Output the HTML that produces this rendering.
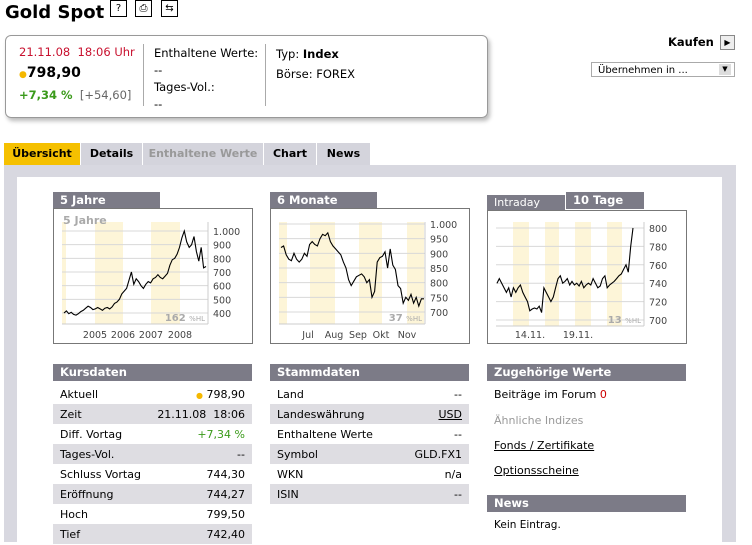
<!DOCTYPE html>
<html><head><meta charset="utf-8">
<style>
body{margin:0;width:752px;height:542px;overflow:hidden;background:#fff;font-family:"DejaVu Sans","Liberation Sans",sans-serif;font-size:11px;color:#000;position:relative}
.a{position:absolute}
.tab{position:absolute;top:143px;height:22px;line-height:22px;text-align:center;font-weight:bold;background:#d4d4dc;font-size:11px}
.hd{position:absolute;height:17px;line-height:17px;background:#7c7b87;color:#fff;font-weight:bold;padding-left:7px;box-sizing:border-box;font-size:11.5px}
.row{position:absolute;height:20px;line-height:21px;box-sizing:border-box;padding:0 7px;width:199px}
.row span{float:right}
.g{background:#dedde2}
.box{position:absolute;border:1px solid #777;background:#fff;box-sizing:border-box}
.ic{position:absolute;top:0;width:15px;height:15px;border:1px solid #000;font-size:10px;text-align:center;line-height:15px}
</style></head><body>
<div class="a" style="left:5px;top:2px;font-size:18px;font-weight:bold">Gold Spot</div>
<div class="ic" style="left:110px">?</div>
<div class="ic" style="left:135px">⎙</div>
<div class="ic" style="left:161px">⇆</div>

<div class="a" style="left:5px;top:35px;width:483px;height:83px;border:1px solid #999;border-radius:6px;box-shadow:2px 3px 4px #bbb;box-sizing:border-box"></div>
<div class="a" style="left:19px;top:45px;color:#c8102e;font-size:11.5px">21.11.08&nbsp; 18:06 Uhr</div>
<div class="a" style="left:19px;top:65px;font-size:14px;font-weight:bold"><span style="color:#f5b800;font-size:9px">●</span>798,90</div>
<div class="a" style="left:19px;top:88px;font-size:11.5px"><b style="color:#3a9a1a">+7,34 %</b> <span style="color:#666">&nbsp;[+54,60]</span></div>
<div class="a" style="left:143px;top:44px;width:1px;height:62px;background:#aaa"></div>
<div class="a" style="left:154px;top:45px;font-size:11.5px;line-height:17px">Enthaltene Werte:<br>--<br>Tages-Vol.:<br>--</div>
<div class="a" style="left:265px;top:44px;width:1px;height:62px;background:#aaa"></div>
<div class="a" style="left:276px;top:44px;font-size:11.5px;line-height:20px">Typ: <b>Index</b><br>Börse: FOREX</div>

<div class="a" style="left:668px;top:35px;font-weight:bold;font-size:11.5px">Kaufen</div>
<div class="a" style="left:720px;top:35px;width:13px;height:13px;border:1px solid #888;background:#eee;font-size:8px;text-align:center;line-height:13px">▶</div>
<div class="a" style="left:591px;top:62px;width:144px;height:15px;border:1px solid #aaa;box-sizing:border-box;font-size:10px;line-height:15px;padding-left:6px">Übernehmen in ...<span style="position:absolute;right:3px;top:1px;width:12px;height:11px;background:#ddd;font-size:7px;line-height:11px;text-align:center">▼</span></div>

<div class="tab" style="left:4px;width:76px;background:#f5c000">Übersicht</div>
<div class="tab" style="left:81px;width:61px">Details</div>
<div class="tab" style="left:143px;width:120px;color:#999">Enthaltene Werte</div>
<div class="tab" style="left:264px;width:52px">Chart</div>
<div class="tab" style="left:317px;width:53px">News</div>
<div class="a" style="left:4px;top:165px;width:732px;height:377px;background:#d8d8e0"></div>
<div class="a" style="left:17px;top:177px;width:705px;height:365px;background:#fff"></div>

<div class="hd" style="left:53px;top:192px;width:107px">5 Jahre</div>
<div class="box" style="left:53px;top:208px;width:200px;height:136px"></div>
<div class="hd" style="left:270px;top:192px;width:107px">6 Monate</div>
<div class="box" style="left:270px;top:208px;width:200px;height:136px"></div>
<div class="hd" style="left:487px;top:195px;width:78px;font-weight:normal;font-size:11px;height:15px;line-height:16px">Intraday</div>
<div class="hd" style="left:566px;top:192px;width:78px">10 Tage</div>
<div class="box" style="left:487px;top:210px;width:200px;height:134px"></div>

<svg class="a" style="left:0;top:0" width="752" height="542" id="svg"></svg>

<div class="hd" style="left:53px;top:364px;width:199px">Kursdaten</div>
<div class="row" style="left:53px;top:384px">Aktuell<span><b style="color:#f5b800;font-size:8px">●</b> 798,90</span></div>
<div class="row g" style="left:53px;top:404px">Zeit<span>21.11.08&nbsp; 18:06</span></div>
<div class="row" style="left:53px;top:424px">Diff. Vortag<span style="color:#3a9a1a">+7,34 %</span></div>
<div class="row g" style="left:53px;top:444px">Tages-Vol.<span>--</span></div>
<div class="row" style="left:53px;top:464px">Schluss Vortag<span>744,30</span></div>
<div class="row g" style="left:53px;top:484px">Eröffnung<span>744,27</span></div>
<div class="row" style="left:53px;top:504px">Hoch<span>799,50</span></div>
<div class="row g" style="left:53px;top:524px">Tief<span>742,40</span></div>

<div class="hd" style="left:270px;top:364px;width:199px">Stammdaten</div>
<div class="row" style="left:270px;top:384px">Land<span>--</span></div>
<div class="row g" style="left:270px;top:404px">Landeswährung<span style="text-decoration:underline">USD</span></div>
<div class="row" style="left:270px;top:424px">Enthaltene Werte<span>--</span></div>
<div class="row g" style="left:270px;top:444px">Symbol<span>GLD.FX1</span></div>
<div class="row" style="left:270px;top:464px">WKN<span>n/a</span></div>
<div class="row g" style="left:270px;top:484px">ISIN<span>--</span></div>

<div class="hd" style="left:487px;top:364px;width:199px">Zugehörige Werte</div>
<div class="a" style="left:494px;top:388px">Beiträge im Forum <span style="color:#c00">0</span></div>
<div class="a" style="left:494px;top:414px;color:#999">Ähnliche Indizes</div>
<div class="a" style="left:494px;top:439px;text-decoration:underline">Fonds / Zertifikate</div>
<div class="a" style="left:494px;top:464px;text-decoration:underline">Optionsscheine</div>
<div class="hd" style="left:487px;top:495px;width:199px">News</div>
<div class="a" style="left:494px;top:519px;font-size:10.5px">Kein Eintrag.</div>

<script>
const y5Values=[400,415,395,405,390,385,395,410,420,435,450,440,425,430,440,430,420,435,440,430,445,470,480,500,540,560,580,640,700,610,650,630,600,580,610,630,620,650,660,680,660,650,670,690,750,790,800,830,880,950,1000,920,880,900,960,850,780,880,730,740];
const y5Ticks=[400,500,600,700,800,900,1000];
const y5TickLabels=["400","500","600","700","800","900","1.000"];
const y5XLabels=["2005","2006","2007","2008"];
const m6Values=[920,925,895,880,875,900,880,870,880,900,890,930,940,930,925,950,965,960,970,940,925,915,905,895,870,850,810,790,805,820,825,830,820,800,810,750,770,870,885,890,905,850,915,860,845,790,780,730,750,740,760,730,750,720,745,745];
const m6Ticks=[700,750,800,850,900,950,1000];
const m6TickLabels=["700","750","800","850","900","950","1.000"];
const m6XLabels=["Jul","Aug","Sep","Okt","Nov"];
const d10Values=[740,745,740,735,730,735,725,735,730,735,738,730,725,720,710,712,713,712,715,708,735,730,725,720,725,735,745,748,740,742,745,738,742,738,740,737,742,735,738,740,738,745,740,735,737,745,748,735,738,740,742,745,748,750,755,760,752,780,800];
const d10Ticks=[700,720,740,760,780,800];
const d10TickLabels=["700","720","740","760","780","800"];
const d10XLabels=["14.11.","19.11."];

const svg=document.getElementById('svg');
const NS='http://www.w3.org/2000/svg';
function mk(tag,attrs){const e=document.createElementNS(NS,tag);for(const k in attrs)e.setAttribute(k,attrs[k]);svg.appendChild(e);return e;}
function chart(c){
  const sy=v=>c.y0+(v-c.vmin)/(c.vmax-c.vmin)*(c.y1-c.y0);
  c.bands.forEach(b=>{const r=mk('rect',{x:b[0],y:c.top,width:b[1]-b[0],height:c.bottom-c.top,fill:'#fdf5d8'});
    
    });
  c.ticks.forEach((t,i)=>{const y=sy(t);
    const l=mk('line',{x1:c.x0,x2:c.xr,y1:y,y2:y,stroke:'#d8d8d8','stroke-width':1});
    
    
    const tx=mk('text',{x:c.xr+5,y:y+4,'font-size':9.5,fill:'#444','font-family':'DejaVu Sans,sans-serif'});
    tx.textContent=c.tickLabels[i];
    
    });
  mk('line',{x1:c.xr,x2:c.xr,y1:c.top,y2:c.bottom,stroke:'#ccc'});
  mk('line',{x1:c.x0,x2:c.xr,y1:c.bottom,y2:c.bottom,stroke:'#ccc'});
  c.xLabels.forEach((s,i)=>{const t=mk('text',{x:c.xPos[i],y:338,'font-size':9.5,fill:'#444','text-anchor':'middle','font-family':'DejaVu Sans,sans-serif'});
    t.textContent=s;
    
    });
  const n=c.values.length;
  const pts=c.values.map((v,i)=>(c.xs+(c.xe-c.xs)*i/(n-1)).toFixed(1)+','+sy(v).toFixed(1)).join(' ');
  const p=mk('polyline',{points:pts,fill:'none',stroke:'#000','stroke-width':1.1});
  
  
  const h=mk('text',{x:c.xr-3,y:c.bottom-3,'font-size':10,fill:'#aaa','text-anchor':'end','font-family':'DejaVu Sans,sans-serif','font-weight':'bold'});
  h.innerHTML=c.hl+' <tspan font-size="7" font-weight="normal">%HL</tspan>';
  
  
}
chart({name:'chart-5y',values:y5Values,ticks:y5Ticks,tickLabels:y5TickLabels,xLabels:y5XLabels,xPos:[95,123,151,180],
  vmin:400,vmax:1000,y0:313,y1:231,x0:62,xr:208,xs:64,xe:206,top:222,bottom:324,
  bands:[[62,66],[95,123],[151,180]],hl:'162'});
const t5=mk('text',{x:63,y:224,'font-size':11,fill:'#aaa','font-weight':'bold','font-family':'DejaVu Sans,sans-serif'});t5.textContent='5 Jahre';


chart({name:'chart-6m',values:m6Values,ticks:m6Ticks,tickLabels:m6TickLabels,xLabels:m6XLabels,xPos:[308,334,358,381,407],
  vmin:700,vmax:1000,y0:312,y1:224,x0:279,xr:425,xs:281,xe:424,top:222,bottom:324,
  bands:[[279,287],[310,335],[359,382],[407,424]],hl:'37'});
chart({name:'chart-10d',values:d10Values,ticks:d10Ticks,tickLabels:d10TickLabels,xLabels:d10XLabels,xPos:[530,578],
  vmin:700,vmax:800,y0:320,y1:228,x0:496,xr:644,xs:497,xe:633,top:222,bottom:326,
  bands:[[513,529],[545,559],[575,591],[607,622]],hl:'13'});
</script>
</body></html>
